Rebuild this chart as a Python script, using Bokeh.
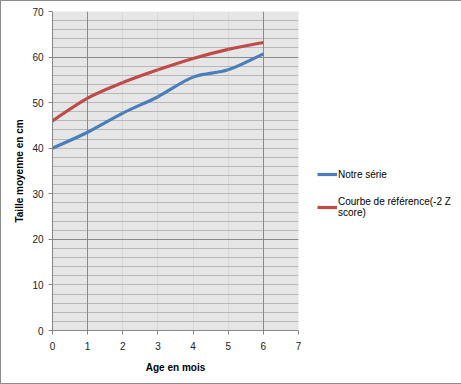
from bokeh.plotting import figure
from bokeh.models import (Range1d, FixedTicker, Grid, Legend, LegendItem, ColumnDataSource)
from bokeh.embed import file_html
from bokeh.resources import INLINE

# ---- data ----
ages = [0, 1, 2, 3, 4, 5, 6]
notre_serie = [40.0, 43.5, 47.7, 51.3, 55.6, 57.2, 60.7]
reference_m2z = [46.0, 51.0, 54.4, 57.2, 59.7, 61.7, 63.2]
x_ticks = [0, 1, 2, 3, 4, 5, 6, 7]
y_ticks = [0, 10, 20, 30, 40, 50, 60, 70]
series_names = ["Notre série", "Courbe de référence(-2 Z\nscore)"]
series_colors = ["#4a7ebb", "#be4b48"]

FONT = "Liberation Sans"


def smooth_segments(xs, ys):
    """Bezier control points (Excel-like smoothing) for each segment."""
    n = len(xs)
    out = dict(x0=[], y0=[], x1=[], y1=[], cx0=[], cy0=[], cx1=[], cy1=[])
    for i in range(n - 1):
        xm, ym = (xs[i - 1], ys[i - 1]) if i > 0 else (xs[i], ys[i])
        xp, yp = (xs[i + 2], ys[i + 2]) if i + 2 < n else (xs[i + 1], ys[i + 1])
        out["x0"].append(xs[i]); out["y0"].append(ys[i])
        out["x1"].append(xs[i + 1]); out["y1"].append(ys[i + 1])
        out["cx0"].append(xs[i] + (xs[i + 1] - xm) / 6)
        out["cy0"].append(ys[i] + (ys[i + 1] - ym) / 6)
        out["cx1"].append(xs[i + 1] - (xp - xs[i]) / 6)
        out["cy1"].append(ys[i + 1] - (yp - ys[i]) / 6)
    return ColumnDataSource(out)


p = figure(frame_width=246, frame_height=319,
           min_border_left=51, min_border_top=10, min_border_bottom=53, min_border_right=162,
           x_range=Range1d(0, 7), y_range=Range1d(0, 70),
           output_backend="svg", toolbar_location=None,
           background_fill_color="#e6e6e6", border_fill_color="white")
p.outline_line_color = None
p.styles = {"border": "1px solid #8c8c8c"}

# grids
p.xgrid.ticker = FixedTicker(ticks=[2, 3, 4, 5])
p.xgrid.grid_line_color = "#d9d9d9"
p.ygrid.ticker = FixedTicker(ticks=list(range(2, 70, 2)))
p.ygrid.grid_line_color = "#b8b8b8"
p.add_layout(Grid(dimension=0, ticker=FixedTicker(ticks=[1, 6]), grid_line_color="#8a8a8a"))
p.add_layout(Grid(dimension=1, ticker=FixedTicker(ticks=[20, 60]), grid_line_color="#8a8a8a"))
p.add_layout(Grid(dimension=0, ticker=FixedTicker(ticks=[7]), grid_line_color="#8a8a8a"))

# axes
for ax in (p.xaxis[0], p.yaxis[0]):
    ax.axis_line_color = "#868686"
    ax.major_tick_line_color = "#868686"
    ax.major_tick_out = 4
    ax.major_tick_in = 0
    ax.minor_tick_line_color = None
    ax.major_label_text_font = FONT
    ax.major_label_text_font_size = "10px"
    ax.major_label_text_color = "#222222"
    ax.axis_label_text_font = FONT
    ax.axis_label_text_font_size = "10px"
    ax.axis_label_text_font_style = "bold"
    ax.axis_label_text_color = "#000000"

p.xaxis.ticker = FixedTicker(ticks=x_ticks)
p.yaxis.ticker = FixedTicker(ticks=y_ticks)
p.xaxis.axis_label = "Age en mois"
p.yaxis.axis_label = "Taille moyenne en cm"
p.xaxis.major_label_standoff = 7
p.xaxis.axis_label_standoff = 9
p.yaxis.major_label_standoff = 5
p.yaxis.axis_label_standoff = 4

# series (smoothed)
items = []
for ys, name, col in zip([notre_serie, reference_m2z], series_names, series_colors):
    src = smooth_segments(ages, ys)
    r = p.bezier(x0="x0", y0="y0", x1="x1", y1="y1", cx0="cx0", cy0="cy0", cx1="cx1", cy1="cy1",
                 source=src, line_color=col, line_width=3.2)
    items.append(LegendItem(label=name, renderers=[r]))

legend = Legend(items=items, location=(19, 112), border_line_color=None,
                background_fill_alpha=0, padding=0, margin=0, spacing=16,
                glyph_width=20, glyph_height=12, label_height=12, label_standoff=1,
                label_text_font=FONT, label_text_font_size="10px", label_text_color="#000000")
p.add_layout(legend, "right")

open("out.html", "w").write(file_html(p, INLINE))
